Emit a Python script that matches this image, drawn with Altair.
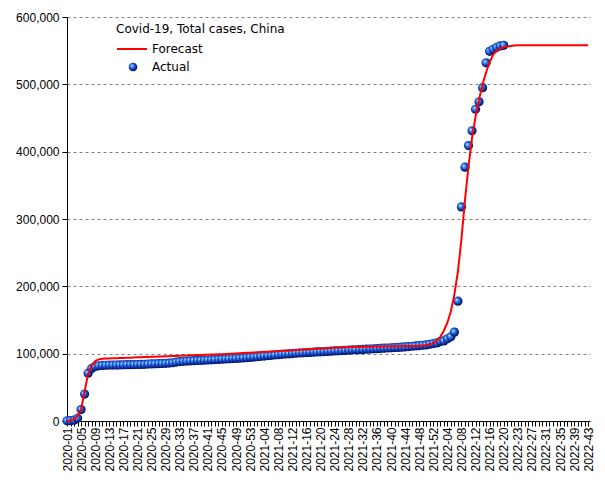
import json
import altair as alt
import pandas as pd

# Tick labels shown on the x axis (every 4th week category)
week_labels = [
    "2020-01", "2020-05", "2020-09", "2020-13", "2020-17", "2020-21", "2020-25",
    "2020-29", "2020-33", "2020-37", "2020-41", "2020-45", "2020-49", "2020-53",
    "2021-04", "2021-08", "2021-12", "2021-16", "2021-20", "2021-24", "2021-28",
    "2021-32", "2021-36", "2021-40", "2021-44", "2021-48", "2021-52",
    "2022-04", "2022-08", "2022-12", "2022-16", "2022-20", "2022-23", "2022-27",
    "2022-31", "2022-35", "2022-39", "2022-43",
]

# Actual weekly totals (thousands), one per week from 2020-01
actual_k = [
    0.3, 0.5, 1.2, 4, 17, 40, 71, 78, 81, 82,
    82.5, 82.8, 83, 83, 83.1, 83.2, 83.4, 83.6, 83.7, 83.8,
    83.9, 84, 84.2, 84.5, 84.8, 85, 85.2, 85.4, 85.6, 86,
    86.5, 87.5, 88.2, 88.6, 89, 89.3, 89.6, 89.9, 90.1, 90.3,
    90.6, 90.9, 91.2, 91.5, 91.8, 92.1, 92.4, 92.7, 93, 93.3,
    93.7, 94.1, 94.5, 95, 95.5, 96, 96.5, 97, 97.5, 98,
    98.5, 99, 99.4, 99.8, 100.2, 100.6, 101, 101.3, 101.6, 101.9,
    102.2, 102.5, 102.8, 103.1, 103.4, 103.7, 104, 104.3, 104.6, 104.9,
    105.2, 105.5, 105.8, 106, 106.3, 106.6, 106.9, 107.2, 107.5, 107.8,
    108.1, 108.4, 108.7, 109, 109.3, 109.6, 110, 110.5, 111, 111.5,
    112, 112.5, 113, 114, 115, 116, 118, 119, 122, 125,
    132, 178, 318, 377, 409, 431, 463, 474, 495, 532,
    549, 552, 555, 557, 558,
]

# Forecast curve (thousands), one per week category
forecast_k = [
    0, 1, 2.5, 8, 17, 44, 70, 82, 89, 91.5,
    92.5, 92.7, 92.9, 93.1, 93.3, 93.5, 93.7, 93.9, 94.1, 94.3,
    94.5, 94.7, 94.9, 95.1, 95.3, 95.5, 95.7, 95.9, 96.1, 96.3,
    96.5, 96.7, 96.9, 97.1, 97.3, 97.5, 97.7, 97.9, 98.1, 98.3,
    98.5, 98.7, 98.9, 99.1, 99.3, 99.5, 99.8, 100, 100.3, 100.6,
    100.9, 101.2, 101.5, 101.8, 102.1, 102.4, 102.7, 103, 103.3, 103.6,
    103.9, 104.2, 104.5, 104.8, 105.1, 105.4, 105.7, 106, 106.3, 106.6,
    106.9, 107.2, 107.5, 107.8, 108.1, 108.4, 108.7, 109, 109.3, 109.5,
    109.7, 109.8, 109.9, 110, 110.1, 110.2, 110.3, 110.4, 110.5, 110.6,
    110.7, 110.8, 110.9, 111, 111.1, 111.2, 111.3, 111.4, 111.5, 111.6,
    111.8, 112, 112.5, 113.5, 115.5, 119, 125, 134, 146, 163,
    188, 222, 270, 328, 378, 420, 452, 478, 500, 518,
    533, 544, 550, 553, 555, 556, 557, 557.5, 558, 558,
    558, 558, 558, 558, 558, 558, 558, 558, 558, 558,
    558, 558, 558, 558, 558, 558, 558, 558, 558,
]

y_ticks = [0, 100000, 200000, 300000, 400000, 500000, 600000]

n_weeks = len(forecast_k)

forecast_df = pd.DataFrame({
    "week": list(range(n_weeks)),
    "cases": [v * 1000 for v in forecast_k],
    "fc": ["Forecast"] * n_weeks,
})
actual_df = pd.DataFrame({
    "week": list(range(len(actual_k))),
    "cases": [v * 1000 for v in actual_k],
    "ac": ["Actual"] * len(actual_k),
})

label_expr = (
    "datum.value % 4 === 0 ? " + json.dumps(week_labels) + "[datum.value / 4] : ''"
)

x_enc = alt.X(
    "week:Q",
    scale=alt.Scale(domain=[0, n_weeks - 0.5], nice=False, zero=False),
    axis=alt.Axis(
        values=list(range(n_weeks)),
        labelExpr=label_expr,
        labelAngle=270,
        labelFont="Liberation Sans",
        labelFontSize=12,
        labelColor="black",
        labelOverlap=False,
        labelFlush=False,
        labelPadding=1,
        tickColor="black",
        tickSize=5,
        domainColor="black",
        grid=False,
        title=None,
    ),
)
y_enc = alt.Y(
    "cases:Q",
    scale=alt.Scale(domain=[0, 600000], nice=False),
    axis=alt.Axis(
        values=y_ticks,
        format=",d",
        labelFont="Liberation Sans",
        labelFontSize=12,
        labelColor="black",
        labelFlush=False,
        labelPadding=3,
        tickColor="black",
        tickSize=5,
        domainColor="black",
        gridColor="#808080",
        gridDash=[3, 3],
        gridWidth=1,
        gridOpacity=1,
        title=None,
    ),
)

ball = {
    "gradient": "radial",
    "x1": 0.35, "y1": 0.35, "r1": 0,
    "x2": 0.45, "y2": 0.45, "r2": 0.6,
    "stops": [
        {"offset": 0, "color": "#d6f4ff"},
        {"offset": 0.25, "color": "#4a9cff"},
        {"offset": 0.6, "color": "#1240c0"},
        {"offset": 1, "color": "#000030"},
    ],
}

points = alt.Chart(actual_df).mark_point(
    filled=True, fill=ball, size=85, opacity=1, strokeWidth=0
).encode(
    x=x_enc,
    y=y_enc,
    shape=alt.Shape(
        "ac:N",
        scale=alt.Scale(domain=["Actual"], range=["circle"]),
        legend=alt.Legend(
            title=None,
            orient="none",
            legendX=60,
            legendY=44,
            symbolSize=75,
            symbolFillColor="#1f55d0",
            symbolStrokeWidth=0,
            symbolOpacity=1,
            labelFont="DejaVu Sans",
            labelFontSize=12,
            labelColor="black",
            labelOffset=13,
            padding=0,
        ),
    ),
)

line = alt.Chart(forecast_df).mark_line(color="#ff0000", strokeWidth=2).encode(
    x=x_enc,
    y=y_enc,
    stroke=alt.Stroke(
        "fc:N",
        scale=alt.Scale(domain=["Forecast"], range=["#ff0000"]),
        legend=alt.Legend(
            title="Covid-19, Total cases, China",
            orient="none",
            legendX=49,
            legendY=7,
            symbolType="stroke",
            symbolSize=900,
            symbolStrokeWidth=2,
            titleFont="DejaVu Sans",
            titleFontSize=12,
            titleFontWeight="normal",
            titleColor="black",
            titlePadding=-3,
            labelFont="DejaVu Sans",
            labelFontSize=12,
            labelColor="black",
            labelOffset=4,
            padding=0,
        ),
    ),
)

chart = alt.layer(points, line).properties(
    width=523,
    height=404,
    autosize=alt.AutoSizeParams(type="none"),
    padding={"left": 59, "top": 9, "right": 7, "bottom": 51},
).configure_view(stroke=None)

chart.save("out.html", embed_options={"renderer": "svg", "actions": False})
